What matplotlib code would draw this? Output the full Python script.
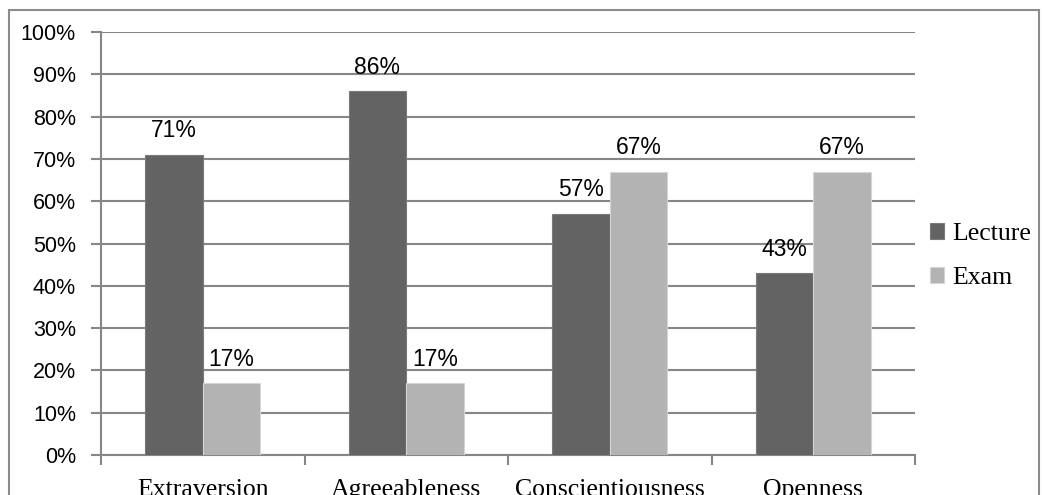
import numpy as np
import matplotlib.pyplot as plt
from matplotlib.patches import Rectangle
from matplotlib.ticker import MultipleLocator, FuncFormatter

traits = ['Extraversion', 'Agreeableness', 'Conscientiousness', 'Openness']
lecture = [71, 86, 57, 43]
exam = [17, 17, 67, 67]

dark = '#636363'
light = '#b3b3b3'
grid = '#868686'
sans = 'Liberation Sans'
serif = 'Liberation Serif'

fig = plt.figure(figsize=(10.44, 4.95), dpi=100)
# outer chart frame
fig.patches.append(Rectangle((9/1044, -0.05), 1030/1044, 1.05 - 10/495,
                             transform=fig.transFigure, fill=False,
                             edgecolor='#8c8c8c', linewidth=1.5))

ax = fig.add_axes([101/1044, 40/495, 814/1044, 423/495])
x = np.arange(len(traits))
w = 0.283
b1 = ax.bar(x - w/2, lecture, w, color=dark, edgecolor='#7a7a7a', linewidth=0.8,
            label='Lecture', zorder=3)
b2 = ax.bar(x + w/2, exam, w, color=light, edgecolor='#d6d6d6', linewidth=0.8,
            label='Exam', zorder=3)

for bars, vals in [(b1, lecture), (b2, exam)]:
  for r, v in zip(bars, vals):
    ax.annotate('%d%%' % v, (r.get_x() + r.get_width()/2, v),
                xytext=(0, 9), textcoords='offset points',
                ha='center', va='bottom', fontsize=16.5, family=sans)

ax.set_xlim(-0.5, len(traits) - 0.5)
ax.set_ylim(0, 100)
ax.yaxis.set_major_locator(MultipleLocator(10))
ax.yaxis.set_major_formatter(FuncFormatter(lambda v, p: '%d%%' % v))
ax.grid(axis='y', color=grid, linewidth=1.5, zorder=0)
ax.set_axisbelow(True)

ax.set_xticks(x)
ax.set_xticklabels(traits, family=serif, fontsize=18.5)
ax.set_xticks(np.arange(len(traits) + 1) - 0.5, minor=True)
ax.tick_params(axis='x', which='major', length=0, pad=17)
ax.tick_params(axis='x', which='minor', length=7, width=1.5, color=grid, direction='out')
ax.tick_params(axis='y', length=7, width=1.5, color=grid, direction='out', pad=11)
for t in ax.get_yticklabels():
  t.set_family(sans)
  t.set_fontsize(15.5)

for s in ['top', 'right']:
  ax.spines[s].set_visible(False)
for s in ['left', 'bottom']:
  ax.spines[s].set_color(grid)
  ax.spines[s].set_linewidth(1.5)

leg = fig.legend(loc='upper left', bbox_to_anchor=(907/1044, 1 - 200/495),
                 frameon=False, prop={'family': serif, 'size': 18.5},
                 handlelength=0.55, handleheight=0.55, handletextpad=0.3,
                 labelspacing=0.85)

fig.savefig('out.png', dpi=100)
